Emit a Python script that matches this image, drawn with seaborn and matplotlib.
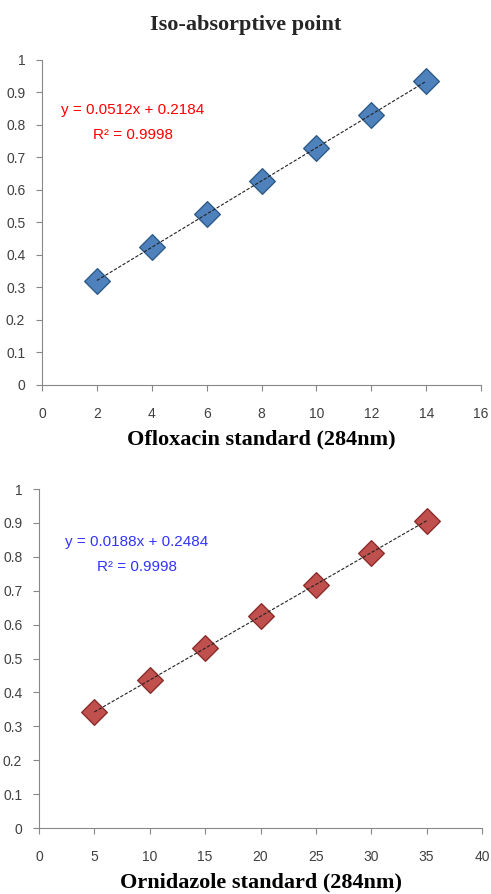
import matplotlib
matplotlib.use("Agg")
import matplotlib.pyplot as plt
import seaborn as sns
import pandas as pd

# concentrations and absorbances
oflox_conc = [2, 4, 6, 8, 10, 12, 14]
oflox_abs = [0.321, 0.424, 0.527, 0.627, 0.730, 0.832, 0.935]
ornid_conc = [5, 10, 15, 20, 25, 30, 35]
ornid_abs = [0.342, 0.437, 0.531, 0.624, 0.718, 0.812, 0.907]

oflox_eq = "y = 0.0512x + 0.2184"
ornid_eq = "y = 0.0188x + 0.2484"
r2_text = "R² = 0.9998"

sns.set_style("white")
narrow = ["Liberation Sans", "DejaVu Sans"]
serif = ["Liberation Serif", "DejaVu Serif"]

fig = plt.figure(figsize=(4.91, 8.94), dpi=100)
ax1 = fig.add_axes([0.0855, 0.5694, 0.8945, 0.3635])
ax2 = fig.add_axes([0.0794, 0.0738, 0.9023, 0.3792])

df1 = pd.DataFrame({"conc": oflox_conc, "abs": oflox_abs})
df2 = pd.DataFrame({"conc": ornid_conc, "abs": ornid_abs})


def draw(ax, df, face, edge, xmax, xstep, eq, eqcol, eqx, label):
    sns.regplot(x="conc", y="abs", data=df, ax=ax, ci=None, marker="D",
                scatter_kws={"s": 170, "color": face, "edgecolors": edge,
                             "linewidths": 1.0, "alpha": 1, "zorder": 3},
                line_kws={"color": "#222222", "lw": 0.8, "ls": (0, (3, 1.5)),
                          "zorder": 4})
    ax.set_xlim(0, xmax)
    ax.set_ylim(0, 1)
    ax.set_xticks(range(0, xmax + 1, xstep))
    ax.set_yticks([i / 10 for i in range(11)])
    ax.set_yticklabels(["0", "0.1", "0.2", "0.3", "0.4", "0.5", "0.6",
                        "0.7", "0.8", "0.9", "1"])
    for s in ["top", "right"]:
        ax.spines[s].set_visible(False)
    for s in ["left", "bottom"]:
        ax.spines[s].set_color("#888888")
        ax.spines[s].set_linewidth(0.8)
    ax.tick_params(axis="both", which="both", length=4, width=0.8,
                   color="#888888", labelsize=10, labelcolor="#404040",
                   direction="out", left=True, bottom=True)
    ax.tick_params(axis="x", pad=12)
    ax.tick_params(axis="y", pad=8)
    for t in ax.get_xticklabels() + ax.get_yticklabels():
        t.set_family(narrow)
    ax.set_xlabel(label, fontsize=16, fontweight="bold", family=serif,
                  color="black", labelpad=6)
    ax.set_ylabel("")
    ax.text(eqx, 0.845, eq, color=eqcol, fontsize=11, ha="center",
            va="center", family=narrow)
    ax.text(eqx, 0.77, r2_text, color=eqcol, fontsize=11, ha="center",
            va="center", family=narrow)


draw(ax1, df1, "#4F81BD", "#2E5C8A", 16, 2, oflox_eq, "#FF0000", 3.3,
     "Ofloxacin standard (284nm)")
draw(ax2, df2, "#C0504D", "#8C2D2A", 40, 5, ornid_eq, "#3333FF", 8.85,
     "Ornidazole standard (284nm)")

fig.text(0.5, 0.972, "Iso-absorptive point", ha="center", va="center",
         fontsize=16, fontweight="bold", family=serif)

fig.savefig("out.png", dpi=100)
